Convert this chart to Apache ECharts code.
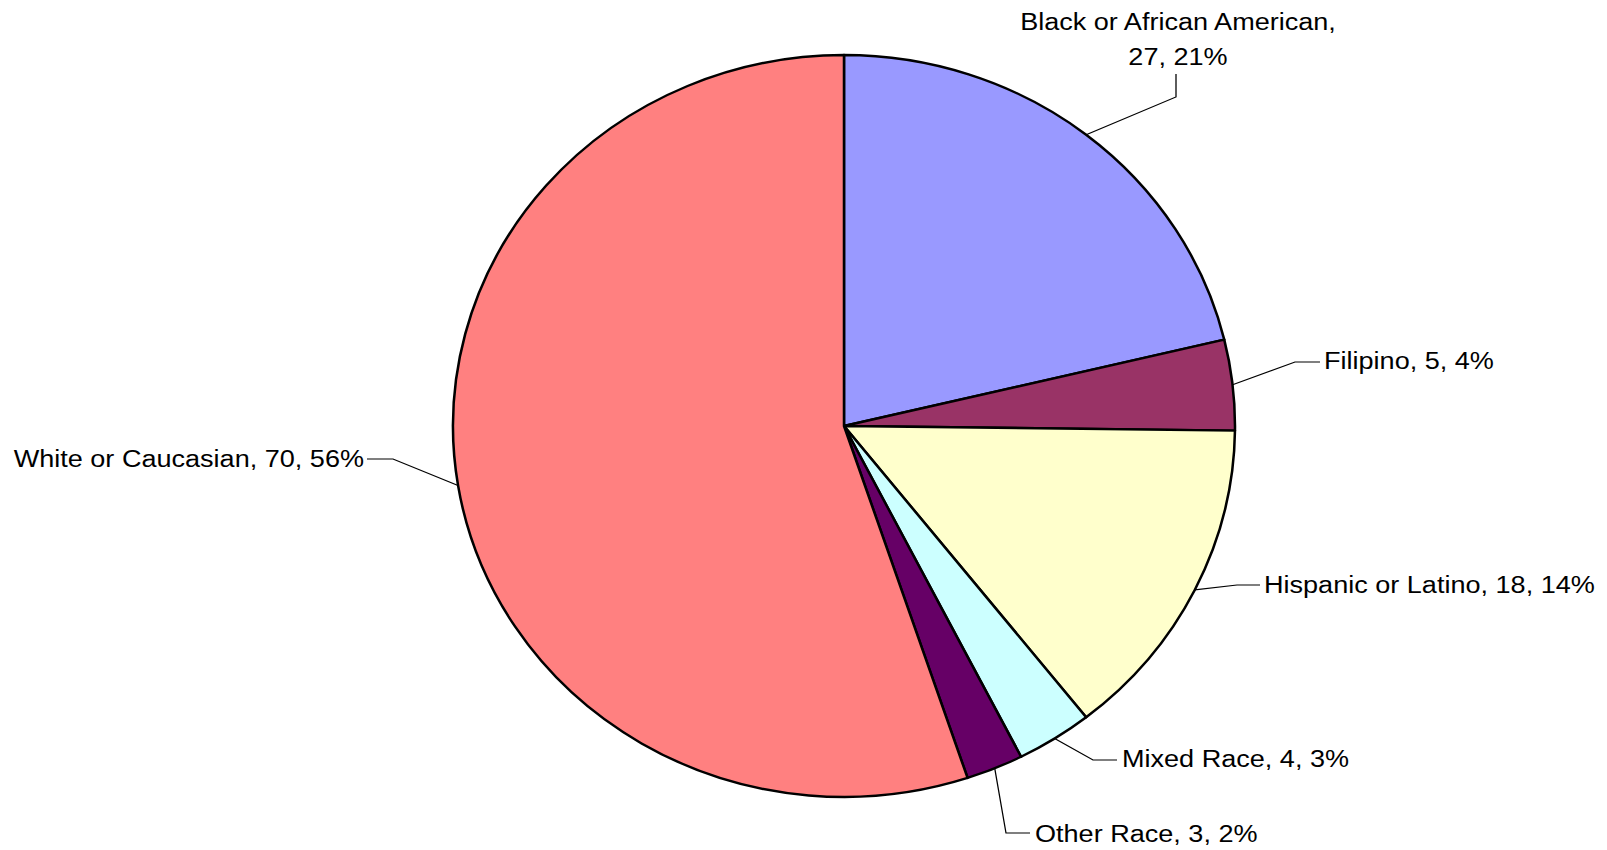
<!DOCTYPE html>
<html>
<head>
<meta charset="utf-8">
<title>Race / Ethnicity</title>
<script src="https://cdn.jsdelivr.net/npm/echarts@6/dist/echarts.min.js"></script>
<style>
  html, body { margin: 0; padding: 0; background: #ffffff; overflow: hidden; }
  #stage { position: relative; width: 1607px; height: 850px; }
  #labels { position: absolute; left: 0; top: 0; height: 850px; z-index: 1; transform-origin: 0 0; }
  #pie { position: absolute; left: 0; top: 0; width: 1607px; height: 850px; z-index: 2; }
</style>
</head>
<body>
<div id="stage">
  <div id="labels"></div>
  <div id="pie"></div>
</div>
<script>
// Data
const categories = ['Black or African American', 'Filipino', 'Hispanic or Latino', 'Mixed Race', 'Other Race', 'White or Caucasian'];
const counts = [27, 5, 18, 4, 3, 70];
const percentLabels = [21, 4, 14, 3, 2, 56];
const sliceColors = ['#9999FF', '#993366', '#FFFFCC', '#CCFFFF', '#660066', '#FF8080'];

// Geometry of the (slightly wide) pie and of the label text
const CX = 844, CY = 426, RY = 371, RX = 391;
const TEXT_SX = 1.152;          // horizontal stretch of the label layer
const W = 1607, H = 850;

// Where each label sits, with its leader-line elbow and end (page pixels)
const labelPlacement = [
  { elbow: [1176, 97],  end: [1176, 74],  x: 1178, y: 74,  align: 'center', vAlign: 'bottom', wrap: true },
  { elbow: [1295, 362], end: [1320, 362], x: 1324, y: 361, align: 'left',   vAlign: 'middle' },
  { elbow: [1237, 585], end: [1260, 585], x: 1264, y: 585, align: 'left',   vAlign: 'middle' },
  { elbow: [1093, 760], end: [1117, 760], x: 1122, y: 759, align: 'left',   vAlign: 'middle' },
  { elbow: [1006, 833], end: [1030, 833], x: 1035, y: 834, align: 'left',   vAlign: 'middle' },
  { elbow: [393, 459],  end: [367, 459],  x: 364,  y: 459, align: 'right',  vAlign: 'middle' }
];

const pieData = categories.map((name, i) => ({
  name: name,
  value: counts[i],
  itemStyle: { color: sliceColors[i] }
}));

// Point on the outer edge of the pie at the middle of slice i
const total = counts.reduce((a, b) => a + b, 0);
function edgePoint(i) {
  let before = 0;
  for (let k = 0; k < i; k++) before += counts[k];
  const theta = (before + counts[i] / 2) / total * Math.PI * 2;
  return [CX + RX * Math.sin(theta), CY - RY * Math.cos(theta)];
}

// Slices: drawn as a circle and widened to the ellipse
const pieEl = document.getElementById('pie');
pieEl.style.transformOrigin = CX + 'px ' + CY + 'px';
pieEl.style.transform = 'scaleX(' + (RX / RY) + ')';
const pieChart = echarts.init(pieEl, null, { renderer: 'svg', width: W, height: H });
pieChart.setOption({
  animation: false,
  series: [{
    type: 'pie',
    center: [CX, CY],
    radius: RY,
    startAngle: 90,
    clockwise: true,
    silent: true,
    label: { show: false },
    labelLine: { show: false },
    itemStyle: { borderColor: '#000000', borderWidth: 2.4 },
    data: pieData
  }]
});

// Labels and leader lines
const labelEl = document.getElementById('labels');
const LW = Math.ceil(W / TEXT_SX);
labelEl.style.width = LW + 'px';
labelEl.style.transform = 'scaleX(' + TEXT_SX + ')';
const labelChart = echarts.init(labelEl, null, { renderer: 'svg', width: LW, height: H });
const toLayer = p => [p[0] / TEXT_SX, p[1]];

labelChart.setOption({
  animation: false,
  series: [{
    type: 'pie',
    center: [CX / TEXT_SX, CY],
    radius: RY,
    startAngle: 90,
    clockwise: true,
    silent: true,
    avoidLabelOverlap: false,
    itemStyle: { color: 'rgba(0,0,0,0)', borderWidth: 0 },
    label: {
      show: true,
      color: '#000000',
      fontFamily: '"Liberation Sans", Arial, sans-serif',
      fontSize: 23.5,
      lineHeight: 35,
      formatter: p => {
        const i = p.dataIndex;
        const sep = labelPlacement[i].wrap ? ',\n' : ', ';
        return categories[i] + sep + counts[i] + ', ' + percentLabels[i] + '%';
      }
    },
    labelLine: {
      show: true,
      length: 20,
      length2: 20,
      lineStyle: { color: '#000000', width: 1.1 }
    },
    labelLayout: params => {
      const i = params.dataIndex;
      const lp = labelPlacement[i];
      return {
        x: lp.x / TEXT_SX,
        y: lp.y,
        align: lp.align,
        verticalAlign: lp.vAlign,
        labelLinePoints: [toLayer(edgePoint(i)), toLayer(lp.elbow), toLayer(lp.end)]
      };
    },
    data: categories.map((name, i) => ({ name: name, value: counts[i] }))
  }]
});
</script>
</body>
</html>
